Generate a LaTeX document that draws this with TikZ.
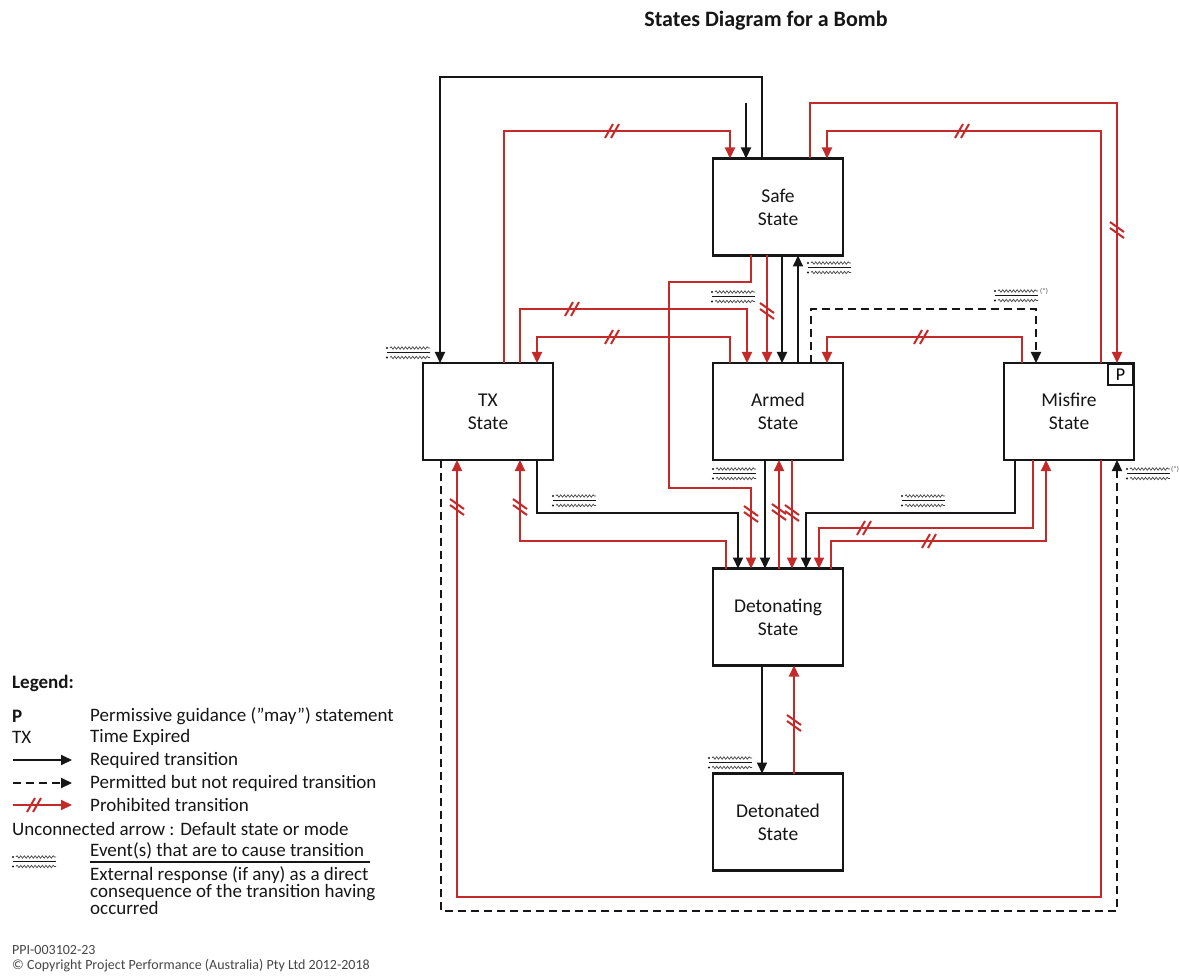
\documentclass[tikz,border=0pt]{standalone}
\usepackage{fontspec}
\setmainfont{Carlito}
\usetikzlibrary{arrows.meta,decorations.pathmorphing}
\definecolor{pr}{RGB}{196,42,42}
\definecolor{ink}{RGB}{22,22,22}
\definecolor{grayt}{RGB}{70,70,70}
\tikzset{
  state/.style={draw=ink, line width=2.8pt, minimum width=130pt, minimum height=97pt,
    inner sep=0pt, outer sep=0pt, align=center, font=\fontsize{19.5}{23}\selectfont, text=ink},
  tip/.style={-{Triangle[length=11pt,width=10pt]}},
  req/.style={draw=ink, line width=2.1pt, tip},
  perm/.style={req, dash pattern=on 8pt off 5pt},
  proh/.style={draw=pr, line width=2.2pt, tip},
  lg/.style={anchor=west, inner sep=0pt, font=\fontsize{19}{17}\selectfont, text=ink},
  xh/.pic={\draw[pr, line width=2pt] (-8,7)--(0,-7) (-2,7)--(6,-7);},
  xv/.pic={\draw[pr, line width=2pt] (-7,-8)--(7,2) (-7,-2)--(7,8);},
  wave/.style={draw=grayt, line width=0.7pt, decorate,
    decoration={snake, segment length=3.6pt, amplitude=1.2pt}},
  evt/.pic={
    \fill[ink] (0,0) circle (1.2);
    \draw[wave] (3,0) -- (43,0);
    \draw[ink, line width=1pt] (0,4.5) -- (43,4.5);
    \fill[ink] (0,9.5) circle (1.2);
    \draw[wave] (3,9.5) -- (43,9.5);
  }
}
\begin{document}
\begin{tikzpicture}[x=1pt,y=-1pt]
\useasboundingbox[fill=white] (0,0) rectangle (1179,976);

% title
\node[font=\bfseries\fontsize{22}{24}\selectfont, text=ink] (title) at (766,21) {States Diagram for a Bomb};

% states
\node[state] (safe) at (778,207) {Safe\\State};
\node[state] (tx) at (488,411.5) {TX\\State};
\node[state] (armed) at (778,411.5) {Armed\\State};
\node[state] (misfire) at (1069,411.5) {Misfire\\State};
\node[state] (deting) at (778,617) {Detonating\\State};
\node[state] (deted) at (778,822) {Detonated\\State};
\node[draw=ink, line width=2.2pt, anchor=north east, minimum width=25pt, minimum height=21pt,
  inner sep=0pt, font=\fontsize{18}{18}\selectfont] (pbox) at (misfire.north east) {P};

% default arrow into Safe
\coordinate (def) at (746,103);
\draw[req] (def) -- (safe.north -| def);

% Safe -> TX (required)
\draw[req] (safe.north -| 762,0) |- (440,77) -- (tx.north -| 440,0);
% TX -> Safe (prohibited)
\draw[proh] (tx.north -| 504,0) |- (730,131) -- (safe.north -| 730,0);
\pic at (613,131) {xh};
% Safe -> Misfire (prohibited)
\draw[proh] (safe.north -| 810,0) |- (1117,103) -- (misfire.north -| 1117,0);
\pic at (1117,230) {xv};
% Misfire -> Safe (prohibited)
\draw[proh] (misfire.north -| 1101,0) |- (827,131) -- (safe.north -| 827,0);
\pic at (963,131) {xh};

% Safe -> Detonating (prohibited)
\draw[proh] (safe.south -| 751,0) |- (669,282) |- (751,488) -- (deting.north -| 751,0);
\pic at (751,514) {xv};
% Safe -> Armed (prohibited)
\draw[proh] (safe.south -| 767,0) -- (armed.north -| 767,0);
\pic at (767,311) {xv};
% Safe -> Armed (required)
\draw[req] (safe.south -| 782,0) -- (armed.north -| 782,0);
% Armed -> Safe (required)
\draw[req] (armed.north -| 798,0) -- (safe.south -| 798,0);

% TX -> Armed (prohibited)
\draw[proh] (tx.north -| 520,0) |- (747,309) -- (armed.north -| 747,0);
\pic at (573,309) {xh};
% Armed -> TX (prohibited)
\draw[proh] (armed.north -| 730,0) |- (537,337) -- (tx.north -| 537,0);
\pic at (613,337) {xh};

% Armed -> Misfire (permitted)
\draw[perm] (armed.north -| 811,0) |- (1036,309) -- (misfire.north -| 1036,0);
% Misfire -> Armed (prohibited)
\draw[proh] (misfire.north -| 1022,0) |- (827,337) -- (armed.north -| 827,0);
\pic at (922,337) {xh};

% TX -> Detonating (required)
\draw[req] (tx.south -| 537,0) |- (738,513) -- (deting.north -| 738,0);
% Detonating -> TX (prohibited)
\draw[proh] (deting.north -| 726,0) |- (520,541) -- (tx.south -| 520,0);
\pic at (520,507) {xv};

% Armed -> Detonating (required)
\draw[req] (armed.south -| 765,0) -- (deting.north -| 765,0);
% Detonating -> Armed (prohibited)
\draw[proh] (deting.north -| 779,0) -- (armed.south -| 779,0);
\pic at (779,512) {xv};
% Armed -> Detonating (prohibited)
\draw[proh] (armed.south -| 792,0) -- (deting.north -| 792,0);
\pic at (792,513) {xv};

% Misfire -> Detonating (required)
\draw[req] (misfire.south -| 1015,0) |- (806,513) -- (deting.north -| 806,0);
% Misfire -> Detonating (prohibited)
\draw[proh] (misfire.south -| 1033,0) |- (819,528) -- (deting.north -| 819,0);
\pic at (865,528) {xh};
% Detonating -> Misfire (prohibited)
\draw[proh] (deting.north -| 831,0) |- (1046,541) -- (misfire.south -| 1046,0);
\pic at (930,541) {xh};

% Detonating -> Detonated (required)
\draw[req] (deting.south -| 762,0) -- (deted.north -| 762,0);
% Detonated -> Detonating (prohibited)
\draw[proh] (deted.north -| 794,0) -- (deting.south -| 794,0);
\pic at (794,723) {xv};

% Misfire -> TX (prohibited)
\draw[proh] (misfire.south -| 1101,0) |- (457,897) -- (tx.south -| 457,0);
\pic at (457,507) {xv};
% TX -> Misfire (permitted)
\draw[perm] (tx.south -| 441,0) |- (1117,911) -- (misfire.south -| 1117,0);

% event labels
\pic at (387,348) {evt};
\pic at (712,292) {evt};
\pic at (808,263) {evt};
\pic at (995,291) {evt};
\node[anchor=west, inner sep=0pt, font=\fontsize{7}{7}\selectfont, text=grayt] (st1) at (1040,291) {(*)};
\pic at (553,496) {evt};
\pic at (713,469) {evt};
\pic at (902,496) {evt};
\pic at (1127,469) {evt};
\node[anchor=west, inner sep=0pt, font=\fontsize{7}{7}\selectfont, text=grayt] (st2) at (1171,469) {(*)};
\pic at (709,758) {evt};

% legend
\node[lg, font=\bfseries\fontsize{19}{17}\selectfont] (lgT) at (12,683) {Legend:};
\node[lg, font=\bfseries\fontsize{19}{17}\selectfont] (lgP) at (12,716) {P};
\node[lg] (lgPd) at (90,716) {Permissive guidance (”may”) statement};
\node[lg] (lgTX) at (12,737) {TX};
\node[lg] (lgTXd) at (90,737) {Time Expired};
\coordinate (la1) at (13,760); \coordinate (lb1) at (72,760);
\draw[req] (la1) -- (lb1);
\node[lg] (lgR) at (90,760) {Required transition};
\coordinate (la2) at (13,783); \coordinate (lb2) at (72,783);
\draw[perm] (la2) -- (lb2);
\node[lg] (lgPe) at (90,783) {Permitted but not required transition};
\coordinate (la3) at (13,805); \coordinate (lb3) at (72,805);
\draw[proh] (la3) -- (lb3);
\pic at (35,805) {xh};
\node[lg] (lgPr) at (90,805) {Prohibited transition};
\node[lg] (lgU) at (12,829) {Unconnected arrow : Default state or mode};
\pic at (13,857) {evt};
\node[lg] (lgE) at (90,851) {Event(s) that are to cause transition};
\draw[ink, line width=2pt] (90,862) -- (370,862);
\node[lg, anchor=north west, align=left] (lgX) at (90,866) {External response (if any) as a direct\\consequence of the transition having\\occurred};

% footer
\node[lg, font=\fontsize{14}{16}\selectfont, text=grayt] (ppi) at (12,950) {PPI-003102-23};
\node[lg, font=\fontsize{14}{16}\selectfont, text=grayt] (copy) at (12,966) {© Copyright Project Performance (Australia) Pty Ltd 2012-2018};
\end{tikzpicture}
\end{document}
